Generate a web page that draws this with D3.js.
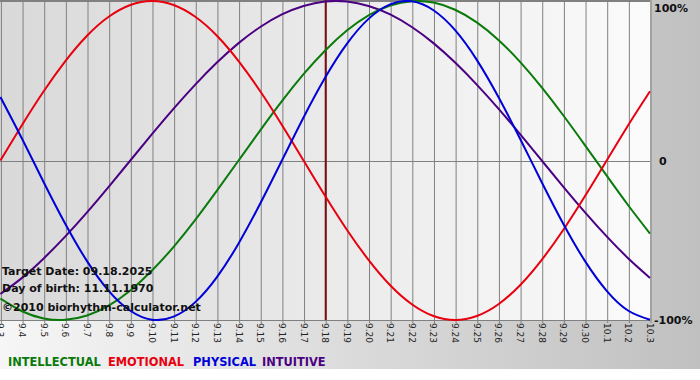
<!DOCTYPE html>
<html><head><meta charset="utf-8">
<script src="https://cdn.jsdelivr.net/npm/d3@7"></script>
<style>body{margin:0;background:#fff}svg{display:block}</style>
</head><body>
<script>
const days = ["9.3","9.4","9.5","9.6","9.7","9.8","9.9","9.10","9.11","9.12","9.13","9.14","9.15","9.16","9.17","9.18","9.19","9.20","9.21","9.22","9.23","9.24","9.25","9.26","9.27","9.28","9.29","9.30","10.1","10.2","10.3"];
const physical = [0.398,0.136,-0.136,-0.398,-0.631,-0.817,-0.942,-0.998,-0.979,-0.888,-0.731,-0.520,-0.270,0,0.270,0.520,0.731,0.888,0.979,0.998,0.942,0.817,0.631,0.398,0.136,-0.136,-0.398,-0.631,-0.817,-0.942,-0.998];
const emotional = [0,0.223,0.434,0.623,0.782,0.901,0.975,1,0.975,0.901,0.782,0.623,0.434,0.223,0,-0.223,-0.434,-0.623,-0.782,-0.901,-0.975,-1,-0.975,-0.901,-0.782,-0.623,-0.434,-0.223,0,0.223,0.434];
const intellectual = [-0.866,-0.945,-0.990,-0.999,-0.972,-0.910,-0.815,-0.690,-0.541,-0.372,-0.189,0,0.189,0.372,0.541,0.690,0.815,0.910,0.972,0.999,0.990,0.945,0.866,0.756,0.618,0.458,0.282,0.095,-0.095,-0.282,-0.458];
const intuitive = [-0.837,-0.736,-0.614,-0.476,-0.325,-0.165,0,0.165,0.325,0.476,0.614,0.736,0.837,0.916,0.969,0.997,0.997,0.969,0.916,0.837,0.736,0.614,0.476,0.325,0.165,0,-0.165,-0.325,-0.476,-0.614,-0.736];
const yTicks = [1, 0, -1];
const yTickLabels = ["100%", "0", "-100%"];
const targetDay = "9.18";
const infoLines = ["Target Date: 09.18.2025", "Day of birth: 11.11.1970", "©2010 biorhythm-calculator.net"];
const legendNames = ["INTELLECTUAL", "EMOTIONAL", "PHYSICAL", "INTUITIVE"];
const colors = {INTELLECTUAL:"#0a7a0a", EMOTIONAL:"#e8000e", PHYSICAL:"#0000d8", INTUITIVE:"#4b0082"};
const seriesMap = {INTELLECTUAL:intellectual, EMOTIONAL:emotional, PHYSICAL:physical, INTUITIVE:intuitive};

const W = 700, H = 380;
const L = 0.4, R = 650, T = 1, B = 320;
const font = "Verdana, 'DejaVu Sans', sans-serif";

const svg = d3.select("body").append("svg").attr("width", W).attr("height", H);
const defs = svg.append("defs");
const g1 = defs.append("linearGradient").attr("id","outer").attr("x1","0").attr("x2","1").attr("y1","0").attr("y2","0");
g1.append("stop").attr("offset","0").attr("stop-color","#f6f6f6");
g1.append("stop").attr("offset","1").attr("stop-color","#c0c0c0");
const g2 = defs.append("linearGradient").attr("id","plotbg").attr("x1","0").attr("x2","1").attr("y1","0").attr("y2","0");
g2.append("stop").attr("offset","0").attr("stop-color","#d9d9d9");
g2.append("stop").attr("offset","1").attr("stop-color","#fbfbfb");
defs.append("clipPath").attr("id","clip").append("rect").attr("x",0).attr("y",0).attr("width",R+1).attr("height",B+1);

svg.append("rect").attr("x",0).attr("y",0).attr("width",W).attr("height",369).attr("fill","url(#outer)");

const x = d3.scalePoint().domain(days).range([L, R]);
const y = d3.scaleLinear().domain([-1, 1]).range([B, T]);

svg.append("rect").attr("x",0).attr("y",0).attr("width",R).attr("height",B).attr("fill","url(#plotbg)");

// vertical grid with small ticks below
const xAxis = d3.axisBottom(x).tickSize(B + 3).tickFormat("");
const gx = svg.append("g").call(xAxis);
gx.select(".domain").remove();
gx.selectAll(".tick line").attr("stroke","#808080").attr("stroke-width",1)
  .attr("transform","translate(0.5,0)");

// horizontal lines
svg.append("g").selectAll("line").data(yTicks).join("line")
  .attr("x1",0).attr("x2",R).attr("y1",d=>Math.round(y(d))+0.5).attr("y2",d=>Math.round(y(d))+0.5)
  .attr("stroke","#808080");
svg.append("line").attr("x1",0).attr("x2",R).attr("y1",0.5).attr("y2",0.5).attr("stroke","#808080");

// x labels rotated
svg.append("g").selectAll("text").data(days).join("text")
  .attr("transform", d => `translate(${x(d)-3},${B+3}) rotate(90)`)
  .attr("font-family", font).attr("font-size", 9).attr("fill","#222")
  .text(d => d);

// right labels
svg.append("g").selectAll("text").data(yTicks).join("text")
  .attr("x", (d,i) => i===1 ? 659 : 654)
  .attr("y", d => Math.max(y(d), 8) + 4)
  .attr("font-family", font).attr("font-weight","bold").attr("font-size", 11).attr("fill","#111")
  .text((d,i) => yTickLabels[i]);

// target line
svg.append("line").attr("x1", x(targetDay)+0.5).attr("x2", x(targetDay)+0.5).attr("y1", 0).attr("y2", B)
  .attr("stroke","#7a1010").attr("stroke-width",2);

// curves
const line = d3.line().x((d,i) => x(days[i])).y(d => y(d)).curve(d3.curveNatural);
const curves = svg.append("g").attr("clip-path","url(#clip)");
["INTUITIVE","INTELLECTUAL","EMOTIONAL","PHYSICAL"].forEach(n => {
  curves.append("path").datum(seriesMap[n]).attr("d", line).attr("fill","none")
    .attr("stroke", colors[n]).attr("stroke-width", 2);
});

// info text
svg.append("g").selectAll("text").data(infoLines).join("text")
  .attr("x", 2).attr("y", (d,i) => [275, 292, 311][i])
  .attr("font-family", font).attr("font-weight","bold").attr("font-size", 11).attr("fill","#111")
  .text(d => d);

// legend
const legX = [8, 108, 193, 262];
svg.append("g").selectAll("text").data(legendNames).join("text")
  .attr("x", (d,i) => legX[i]).attr("y", 366)
  .attr("font-family", font).attr("font-weight","bold").attr("font-size", 11.4)
  .attr("fill", d => colors[d]).text(d => d);
</script>
</body></html>
